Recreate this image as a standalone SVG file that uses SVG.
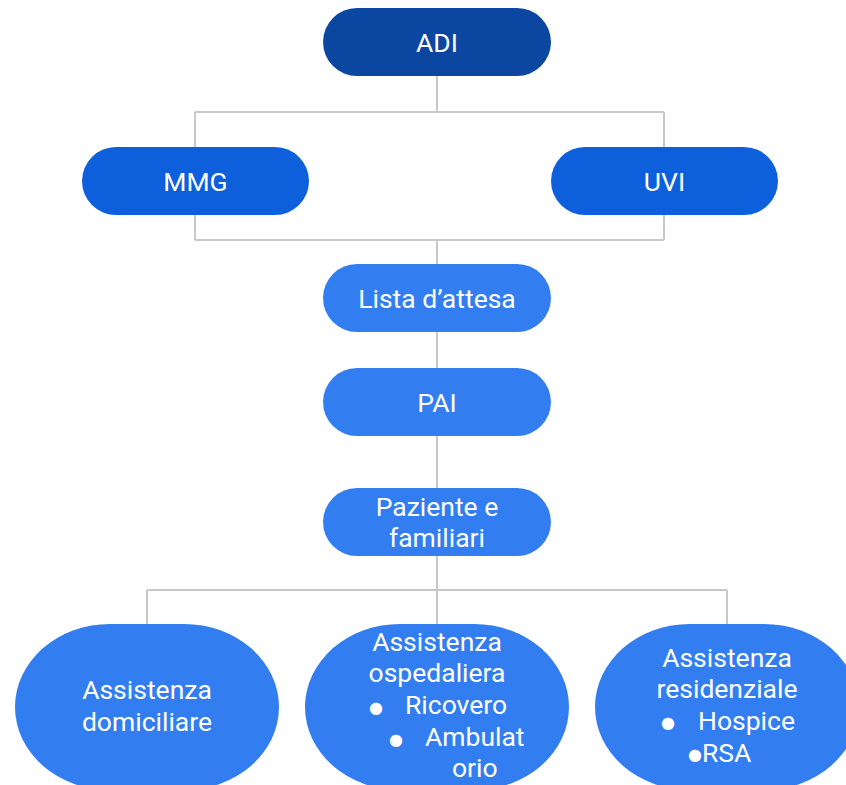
<svg xmlns="http://www.w3.org/2000/svg" width="846" height="785" viewBox="0 0 846 785">
<style>
.lbl{font-family:Roboto,"Liberation Sans",sans-serif;font-size:26.5px;fill:#ffffff;text-anchor:middle}
.ls{text-anchor:start}
.bul{font-family:"DejaVu Sans",sans-serif;font-size:16px;fill:#ffffff;text-anchor:middle}
.c{fill:none;stroke:#c8c8c8;stroke-width:2}
.dark{fill:#0b47a1}
.mid{fill:#0d5fdc}
.light{fill:#327ef1}
</style>
<rect width="846" height="785" fill="#ffffff"/>
<g id="connectors">
<path class="c" d="M437 76V112M195 112H664M195 112V240M664 112V240M195 240H664M437 240V590M147 590H727M147 590V624M437 590V624M727 590V624"/>
</g>
<g id="adi"><rect class="dark" x="323" y="8" width="228" height="68" rx="34"/><text class="lbl" x="437" y="52">ADI</text></g>
<g id="mmg"><rect class="mid" x="82" y="147" width="227" height="68" rx="34"/><text class="lbl" x="195.5" y="191">MMG</text></g>
<g id="uvi"><rect class="mid" x="551" y="147" width="227" height="68" rx="34"/><text class="lbl" x="664.5" y="191">UVI</text></g>
<g id="lista"><rect class="light" x="323" y="264" width="228" height="68" rx="34"/><text class="lbl" x="437" y="308">Lista d’attesa</text></g>
<g id="pai"><rect class="light" x="323" y="368" width="228" height="68" rx="34"/><text class="lbl" x="437" y="412">PAI</text></g>
<g id="paziente"><rect class="light" x="323" y="488" width="228" height="68" rx="34"/><text class="lbl" x="437" y="516">Paziente e</text><text class="lbl" x="437" y="547">familiari</text></g>
<g id="domiciliare"><rect class="light" x="15" y="624" width="264" height="166" rx="95" ry="83"/><text class="lbl" x="147" y="699">Assistenza</text><text class="lbl" x="147" y="731">domiciliare</text></g>
<g id="ospedaliera"><rect class="light" x="305" y="624" width="264" height="166" rx="95" ry="83"/><text class="lbl" x="437" y="651">Assistenza</text><text class="lbl" x="437" y="682">ospedaliera</text><text class="bul" x="376" y="713">●</text><text class="lbl ls" x="405" y="714">Ricovero</text><text class="bul" x="396" y="745">●</text><text class="lbl ls" x="425" y="746">Ambulat</text><text class="lbl ls" x="452" y="777">orio</text></g>
<g id="residenziale"><rect class="light" x="595" y="624" width="264" height="166" rx="95" ry="83"/><text class="lbl" x="727" y="667">Assistenza</text><text class="lbl" x="727" y="698">residenziale</text><text class="bul" x="668" y="728">●</text><text class="lbl ls" x="698" y="730">Hospice</text><text class="bul" x="695" y="760">●</text><text class="lbl ls" x="702" y="762">RSA</text></g>
</svg>
